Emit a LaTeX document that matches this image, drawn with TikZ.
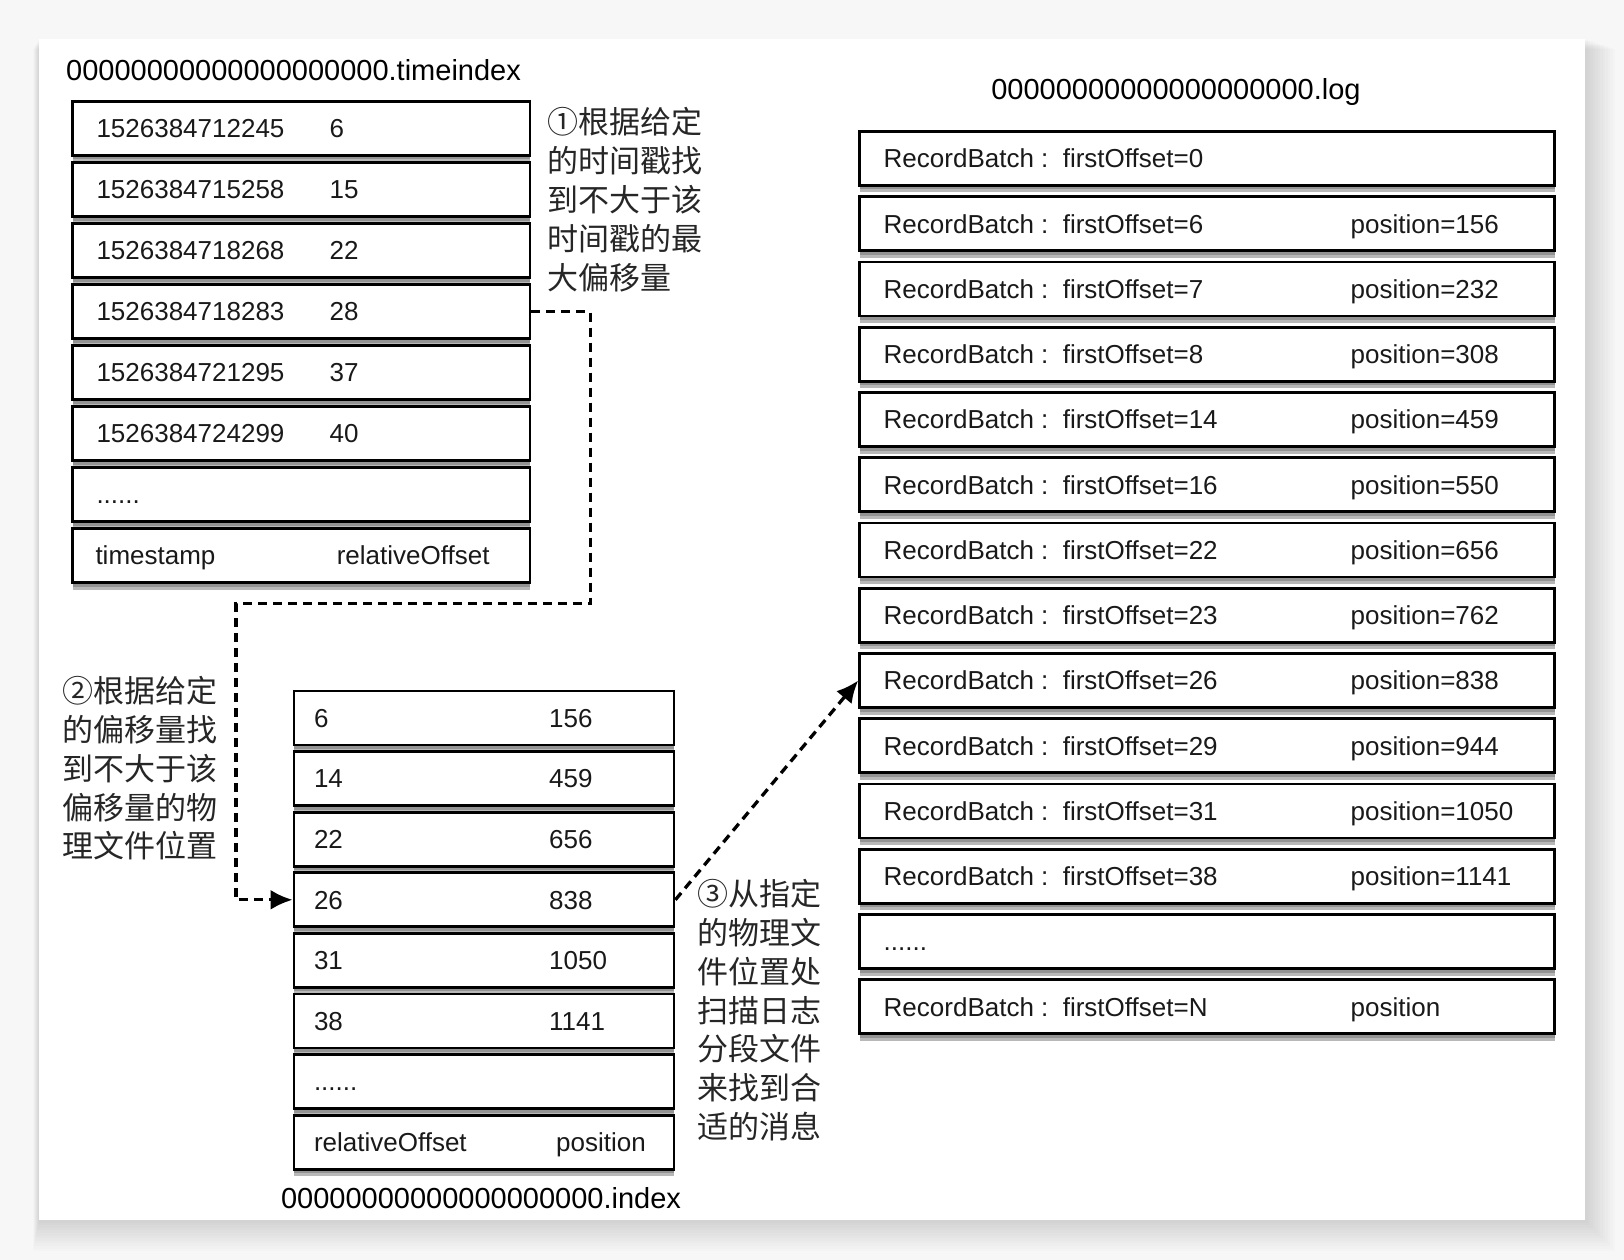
\documentclass[tikz,border=0pt]{standalone}
\usepackage{fontspec}
\setmainfont{Liberation Sans}
\newfontfamily\cjk{Noto Sans CJK SC}
\usetikzlibrary{arrows.meta,shadows}
\begin{document}
\begin{tikzpicture}[x=1pt,y=-1pt,
  rowbox/.style={draw=black, line width=2.8pt, fill=white, minimum height=54pt, inner sep=0pt,
    drop shadow={shadow xshift=0pt, shadow yshift=-7pt, fill=black, opacity=0.28},
    drop shadow={shadow xshift=0pt, shadow yshift=-4pt, fill=black, opacity=0.2}},
  tibox/.style={rowbox, minimum width=457.5pt},
  ixbox/.style={rowbox, minimum width=380pt},
  lgbox/.style={rowbox, minimum width=695pt},
  txt/.style={anchor=west, inner sep=0pt, font=\fontsize{26}{30}\selectfont, text height=18.7pt, text depth=0pt, text=black!90},
  ttl/.style={inner sep=0pt, font=\fontsize{29}{34}\selectfont, text height=20.8pt, text depth=0pt},
  note/.style={anchor=west, inner sep=0pt, align=left, font=\cjk\fontsize{31}{38.8}\selectfont, text=black!85},
  flow/.style={draw=black, line width=3.3pt, dash pattern=on 9pt off 6pt, -{Latex[length=22pt,width=20pt]}}
]
\useasboundingbox (0,0) rectangle (1624,1260);
\fill[black!3] (0,0) rectangle (1624,1260);
\foreach \k in {1,...,12}
  \fill[black, opacity=0.012] (39-\k*0.5,39+\k*0.8) rectangle (1585+\k*2.5,1220+\k*2.6);
\fill[white] (39,39) rectangle (1585,1220);

% ---------- timeindex ----------
\node[ttl, anchor=west] (tititle) at (66,70) {00000000000000000000.timeindex};
\foreach \i/\a/\b in {1/1526384712245/6, 2/1526384715258/15, 3/1526384718268/22,
                      4/1526384718283/28, 5/1526384721295/37, 6/1526384724299/40}{
  \node[tibox] (ti\i) at (301.25,{128.5+(\i-1)*61}) {};
  \node[txt] (ti\i a) at (96.3,{128.5+(\i-1)*61}) {\a};
  \node[txt] (ti\i b) at (329.4,{128.5+(\i-1)*61}) {\b};
}
\node[tibox] (ti7) at (301.25,494.5) {};
\node[txt] (ti7a) at (96.3,494.5) {......};
\node[tibox] (ti8) at (301.25,555.5) {};
\node[txt] (ti8a) at (95.3,555.5) {timestamp};
\node[txt] (ti8b) at (336.6,555.5) {relativeOffset};

\node[note] (n1) at (547,199.6) {①根据给定\\的时间戳找\\到不大于该\\时间戳的最\\大偏移量};

% ---------- index ----------
\foreach \i/\a/\b in {1/6/156, 2/14/459, 3/22/656, 4/26/838, 5/31/1050, 6/38/1141}{
  \node[ixbox] (ix\i) at (484,{718+(\i-1)*60.6}) {};
  \node[txt] (ix\i a) at (313.8,{718+(\i-1)*60.6}) {\a};
  \node[txt] (ix\i b) at (549,{718+(\i-1)*60.6}) {\b};
}
\node[ixbox] (ix7) at (484,1081.6) {};
\node[txt] (ix7a) at (313.8,1081.6) {......};
\node[ixbox] (ix8) at (484,1142.2) {};
\node[txt] (ix8a) at (313.8,1142.2) {relativeOffset};
\node[txt] (ix8b) at (556,1142.2) {position};
\node[ttl] (ixtitle) at (481,1198) {00000000000000000000.index};

\node[note] (n2) at (62,768.4) {②根据给定\\的偏移量找\\到不大于该\\偏移量的物\\理文件位置};
\node[note] (n3) at (697,1010.2) {③从指定\\的物理文\\件位置处\\扫描日志\\分段文件\\来找到合\\适的消息};

% ---------- log ----------
\node[ttl] (lgtitle) at (1176,89) {00000000000000000000.log};
\foreach \i/\a/\b in {1/0/, 2/6/156, 3/7/232, 4/8/308, 5/14/459, 6/16/550, 7/22/656,
                      8/23/762, 9/26/838, 10/29/944, 11/31/1050, 12/38/1141}{
  \node[lgbox] (lg\i) at (1207.1,{158.5+(\i-1)*65.25}) {};
  \node[txt] (lg\i a) at (883.5,{158.5+(\i-1)*65.25}) {RecordBatch :};
  \node[txt] (lg\i b) at (1062.6,{158.5+(\i-1)*65.25}) {firstOffset=\a};
  \ifx\b\empty\else
  \node[txt] (lg\i c) at (1350.5,{158.5+(\i-1)*65.25}) {position=\b};
  \fi
}
\node[lgbox] (lg13) at (1207.1,941.5) {};
\node[txt] (lg13a) at (883.5,941.5) {......};
\node[lgbox] (lg14) at (1207.1,1006.75) {};
\node[txt] (lg14a) at (883.5,1006.75) {RecordBatch :};
\node[txt] (lg14b) at (1062.6,1006.75) {firstOffset=N};
\node[txt] (lg14c) at (1350.5,1006.75) {position};

% ---------- connectors ----------
\coordinate (k1) at (590.4,603.8);
\coordinate (k2) at (236,603.8);
\draw[flow] (ti4.east) -| (k1) -- (k2) |- (ix4.west);
\draw[flow] (ix4.east) -- (lg9.west);
\end{tikzpicture}
\end{document}
